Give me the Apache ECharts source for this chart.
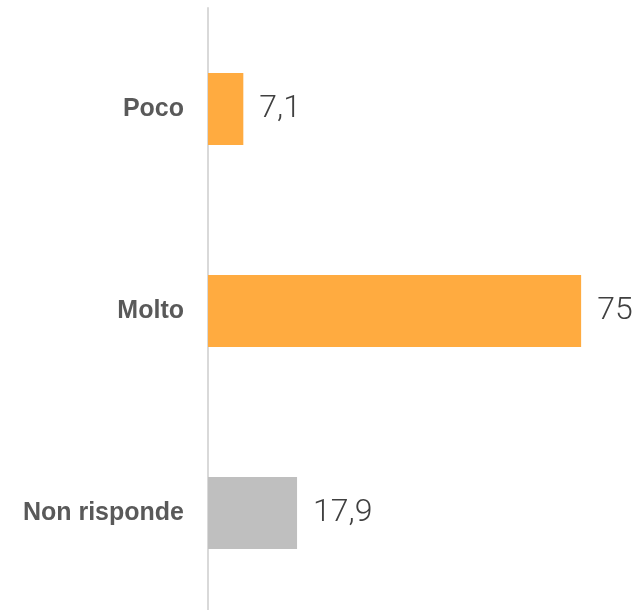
<!DOCTYPE html>
<html>
<head>
<meta charset="utf-8">
<script src="https://cdn.jsdelivr.net/npm/echarts@6/dist/echarts.min.js"></script>
<style>html,body{margin:0;padding:0;background:#fff;overflow:hidden}#c{width:641px;height:616px}</style>
</head>
<body>
<div id="c"></div>
<script>
const categories = ['Poco', 'Molto', 'Non risponde'];
const values = [7.1, 75, 17.9];
const barColors = ['#FFAB40', '#FFAB40', '#BFBFBF'];

const chart = echarts.init(document.getElementById('c'), null, {renderer: 'canvas'});
chart.setOption({
  animation: false,
  backgroundColor: '#ffffff',
  grid: {left: 208, width: 398, top: 8, height: 606, containLabel: false},
  xAxis: {type: 'value', min: 0, max: 80, show: false},
  yAxis: {
    type: 'category', inverse: true, data: categories,
    axisLine: {show: true, lineStyle: {color: '#D9D9D9', width: 2}},
    axisTick: {show: false},
    splitLine: {show: false},
    axisLabel: {color: '#595959', fontFamily: '"Liberation Sans"', fontWeight: 'bold', fontSize: 25, margin: 24}
  },
  series: [{
    type: 'bar',
    barWidth: 72,
    data: values.map((v, i) => ({value: v, itemStyle: {color: barColors[i]}})),
    label: {
      show: true, position: 'right', distance: 16,
      color: '#404040', fontFamily: 'Roboto', fontWeight: 300, fontSize: 32,
      formatter: p => String(p.value).replace('.', ',')
    }
  }]
});
</script>
</body>
</html>
